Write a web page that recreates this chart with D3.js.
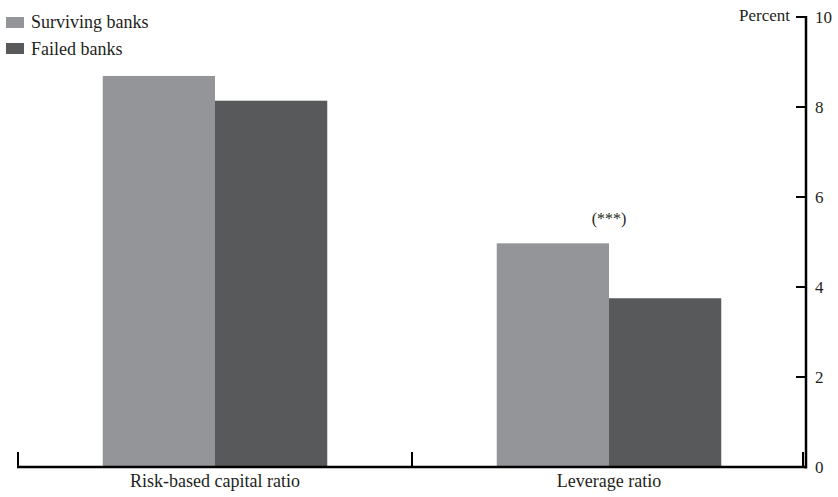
<!DOCTYPE html>
<html><head><meta charset="utf-8">
<script src="https://cdn.jsdelivr.net/npm/d3@7"></script>
<style>body{margin:0;background:#fff}svg{display:block}text{font-family:"Liberation Serif","DejaVu Serif",serif;fill:#231f20}</style>
</head><body><svg id="c" width="838" height="497"></svg>
<script>
const categories = ["Risk-based capital ratio", "Leverage ratio"];
const seriesNames = ["Surviving banks", "Failed banks"];
const surviving = [8.69, 4.97];
const failed = [8.14, 3.75];
const annotations = ["", "(***)"];
const yTicks = [0, 2, 4, 6, 8, 10];
const colors = ["#939598", "#58595b"];

const svg = d3.select("#c");
const mLeft = 18, mRight = 806, mTop = 17, mBottom = 467;
const x = d3.scaleBand().domain(categories).range([mLeft, mRight]).paddingInner(0).paddingOuter(0);
const y = d3.scaleLinear().domain([0, 10]).range([mBottom, mTop]);
const xs = d3.scaleBand().domain(seriesNames).range([0, x.bandwidth()]).paddingInner(0).paddingOuter(0.755);

const data = categories.map((c, i) => ({c, vals: [surviving[i], failed[i]]}));
const g = svg.append("g");
data.forEach((d, i) => {
  d.vals.forEach((v, j) => {
    g.append("rect")
      .attr("x", x(d.c) + xs(seriesNames[j]))
      .attr("width", xs.bandwidth())
      .attr("y", y(v))
      .attr("height", y(0) - y(v))
      .attr("fill", colors[j]);
  });
  if (annotations[i]) {
    g.append("text").attr("x", x(d.c) + x.bandwidth() / 2).attr("y", y(d.vals[0]) - 19)
      .attr("text-anchor", "middle").attr("font-size", 16).text(annotations[i]);
  }
});

// right axis
const ya = d3.axisRight(y).tickValues(yTicks).tickSize(0).tickPadding(9).tickFormat(d3.format("d"));
const yg = svg.append("g").attr("transform", `translate(${mRight},0)`).call(ya);
yg.select(".domain").remove();
yg.selectAll("text").attr("font-size", 17).attr("fill", "#231f20").style("font-family", "Liberation Serif");
svg.append("line").attr("x1", mRight).attr("x2", mRight).attr("y1", y(10) - 1).attr("y2", mBottom + 1.5)
  .attr("stroke", "#000").attr("stroke-width", 2.5);
yTicks.filter(t => t > 0).forEach(t => {
  svg.append("line").attr("x1", mRight - 10).attr("x2", mRight).attr("y1", y(t)).attr("y2", y(t))
    .attr("stroke", "#000").attr("stroke-width", 2);
});
svg.append("text").attr("x", 790).attr("y", 21).attr("text-anchor", "end").attr("font-size", 17).text("Percent");

// bottom axis
svg.append("line").attr("x1", mLeft - 1).attr("x2", mRight).attr("y1", mBottom).attr("y2", mBottom)
  .attr("stroke", "#000").attr("stroke-width", 2.5);
const bounds = [mLeft, x(categories[1]), mRight - 3];
bounds.forEach(b => {
  svg.append("line").attr("x1", b).attr("x2", b).attr("y1", mBottom - 15).attr("y2", mBottom)
    .attr("stroke", "#000").attr("stroke-width", 2);
});
categories.forEach(c => {
  svg.append("text").attr("x", x(c) + x.bandwidth() / 2).attr("y", 487).attr("text-anchor", "middle")
    .attr("font-size", 18).text(c);
});

// legend
seriesNames.forEach((s, i) => {
  svg.append("rect").attr("x", 6).attr("y", 17 + i * 26).attr("width", 18).attr("height", 11).attr("fill", colors[i]);
  svg.append("text").attr("x", 31).attr("y", 28 + i * 27).attr("font-size", 18).text(s);
});
</script></body></html>
